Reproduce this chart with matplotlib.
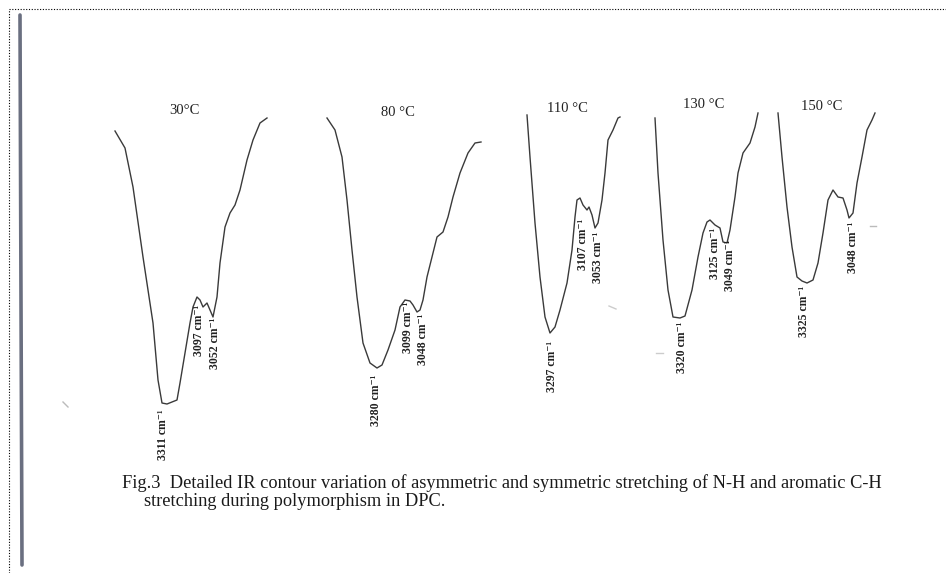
import matplotlib
matplotlib.use("Agg")
import matplotlib.pyplot as plt
from matplotlib.lines import Line2D

plt.rcParams['font.family'] = ['Liberation Serif', 'DejaVu Serif']

# ---- traced contours (page-pixel units) ----
t30_x = [115, 125, 133, 143, 153, 158, 162, 167, 172, 177, 180, 185, 190, 193, 197,
         200, 203, 207, 210, 213, 217, 220, 225, 230, 235, 240, 247, 253, 260, 267]
t30_y = [131, 148, 187, 257, 323, 380, 403, 404, 402, 400, 383, 353, 323, 307, 297,
         300, 307, 303, 310, 317, 297, 263, 227, 213, 205, 190, 160, 140, 123, 118]

t80_x = [327, 335, 342, 347, 352, 357, 363, 370, 377, 382, 388, 395, 400, 405, 410,
         413, 417, 420, 423, 427, 432, 437, 443, 448, 453, 460, 468, 475, 481]
t80_y = [118, 130, 157, 200, 250, 297, 343, 363, 368, 365, 350, 330, 307, 300, 301,
         305, 312, 310, 300, 277, 257, 237, 232, 217, 197, 173, 153, 143, 142]

t110_x = [527, 530, 535, 540, 545, 550, 555, 560, 567, 572, 575, 577, 580, 583, 587,
          589, 592, 595, 598, 602, 605, 608, 613, 618, 620]
t110_y = [115, 157, 223, 277, 317, 333, 327, 310, 283, 250, 217, 200, 198, 205, 210,
          207, 215, 228, 223, 200, 173, 140, 130, 118, 117]

t130_x = [655, 658, 663, 668, 673, 680, 685, 692, 698, 703, 707, 710, 715, 720, 723,
          727, 730, 735, 738, 743, 750, 755, 758]
t130_y = [118, 173, 240, 290, 317, 318, 316, 290, 257, 233, 222, 220, 225, 228, 242,
          243, 230, 197, 173, 153, 143, 127, 113]

t150_x = [778, 782, 787, 792, 797, 802, 807, 813, 818, 823, 828, 833, 838, 843, 847,
          849, 853, 857, 862, 867, 872, 875]
t150_y = [113, 157, 207, 247, 277, 281, 283, 280, 263, 233, 200, 190, 197, 198, 210,
          218, 213, 183, 157, 130, 120, 113]

temps = ["30\u00b0C", "80 \u00b0C", "110 \u00b0C", "130 \u00b0C", "150 \u00b0C"]
temp_pos = [(184, 111), (398, 113), (567, 108), (704, 104), (822, 106)]

peak_labels = ["3311", "3097", "3052", "3280", "3099", "3048", "3297", "3107", "3053",
               "3320", "3125", "3049", "3325", "3048"]
peak_pos = [(163, 409), (199, 305), (215, 318), (376, 375), (408, 302), (423, 314),
            (552, 341), (583, 219), (598, 232), (682, 322), (715, 228), (730, 240),
            (804, 286), (853, 222)]

caption_1 = "Fig.3  Detailed IR contour variation of asymmetric and symmetric stretching of N-H and aromatic C-H"
caption_2 = "stretching during polymorphism in DPC."

fig = plt.figure(figsize=(9.46, 5.73), dpi=100)
ax = fig.add_axes([0, 0, 1, 1])
ax.set_xlim(0, 946)
ax.set_ylim(573, 0)
ax.axis('off')

for xs, ys in [(t30_x, t30_y), (t80_x, t80_y), (t110_x, t110_y),
               (t130_x, t130_y), (t150_x, t150_y)]:
    ax.plot(xs, ys, color='#3a3a3a', lw=1.0, solid_joinstyle='round')

for s, (x, y) in zip(temps, temp_pos):
    ax.text(x, y, s, ha='center', va='center', fontsize=10.5, color='#222222')

for s, (x, y) in zip(peak_labels, peak_pos):
    ax.text(x, y, s + " cm\u207b\u00b9", rotation=90, ha='center', va='top',
            fontsize=8.5, fontweight='bold', color='#222222')

ax.text(122, 483, caption_1, ha='left', va='center', fontsize=13.2, color='#1a1a1a')
ax.text(144, 501, caption_2, ha='left', va='center', fontsize=13.2, color='#1a1a1a')

# scan artefacts: dotted page border (top/left), grey binding line, specks
fig.add_artist(Line2D([9 / 946, 1], [1 - 9 / 573, 1 - 9 / 573], transform=fig.transFigure,
                      color='black', lw=0.8, ls=(0, (1, 1.5))))
fig.add_artist(Line2D([9 / 946, 9 / 946], [0, 1 - 9 / 573], transform=fig.transFigure,
                      color='black', lw=0.8, ls=(0, (1, 1.5))))
ax.plot([20, 21, 22], [15, 300, 565], color='#6a6f80', lw=2.6, solid_capstyle='round')
ax.plot([63, 68], [402, 407], color='#bbbbbb', lw=1.0)
ax.plot([870, 876], [226, 226], color='#bbbbbb', lw=1.0)
ax.plot([609, 616], [306, 309], color='#cccccc', lw=1.0)
ax.plot([656, 663], [353, 353], color='#cccccc', lw=1.0)

fig.savefig("out.png", dpi=100, facecolor='white')
